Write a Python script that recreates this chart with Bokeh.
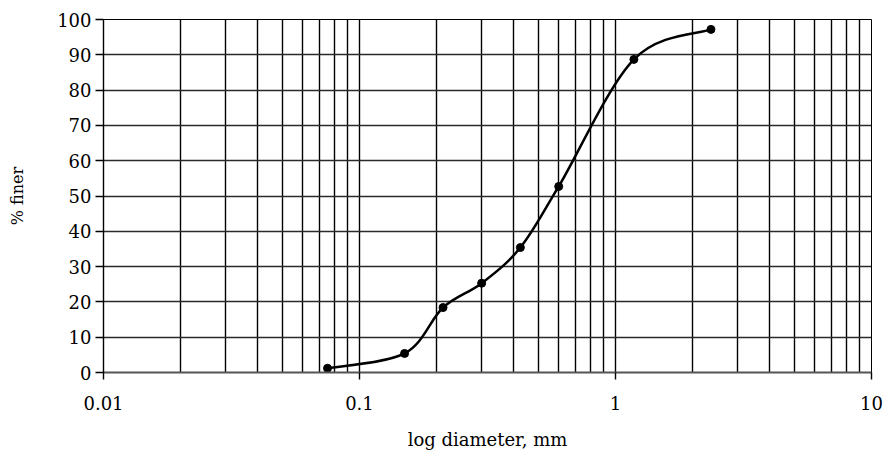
import numpy as np
from bokeh.plotting import figure
from bokeh.models import FixedTicker, Range1d, CustomJSTickFormatter, ColumnDataSource
from bokeh.embed import file_html
from bokeh.resources import INLINE

# ---- data ----
diameter_mm = [0.075, 0.15, 0.212, 0.3, 0.425, 0.6, 1.18, 2.36]
percent_finer = [1.2, 5.4, 18.4, 25.3, 35.4, 52.7, 88.7, 97.2]
x_major_ticks = [0.01, 0.1, 1, 10]
x_minor_mantissas = [2, 3, 4, 5, 6, 7, 8, 9]
y_ticks = [0, 10, 20, 30, 40, 50, 60, 70, 80, 90, 100]
x_title = "log diameter, mm"
y_title = "% finer"

FONT = "DejaVu Serif"

p = figure(width=884, height=452, x_axis_type="log",
           x_range=Range1d(0.01, 10), y_range=Range1d(0, 100),
           output_backend="svg", toolbar_location=None,
           min_border_left=103, min_border_right=13,
           min_border_top=19, min_border_bottom=80)

p.background_fill_color = "white"
p.border_fill_color = "white"
p.outline_line_color = "black"
p.outline_line_width = 1

minor = [m * d for d in x_major_ticks[:-1] for m in x_minor_mantissas]
p.xaxis.ticker = FixedTicker(ticks=x_major_ticks, minor_ticks=minor)
p.yaxis.ticker = FixedTicker(ticks=y_ticks)
p.xaxis.formatter = CustomJSTickFormatter(code="return String(tick);")

# grids
p.xgrid.grid_line_color = "black"
p.xgrid.grid_line_width = 1.4
p.xgrid.minor_grid_line_color = "black"
p.xgrid.minor_grid_line_width = 1.4
p.ygrid.grid_line_color = "#2a2a2a"
p.ygrid.grid_line_width = 1.4

# axes
for ax in (p.xaxis[0], p.yaxis[0]):
    ax.major_label_text_font = FONT
    ax.major_label_text_font_size = "18px"
    ax.major_label_text_color = "black"
    ax.axis_label_text_font = FONT
    ax.axis_label_text_font_style = "normal"
    ax.axis_label_text_color = "black"
    ax.minor_tick_line_color = None
    ax.major_tick_in = 0
    ax.major_tick_line_color = "black"
    ax.major_tick_line_width = 1.4

p.xaxis.axis_line_color = "#555555"
p.xaxis.axis_line_width = 2
p.xaxis.major_tick_out = 7
p.xaxis.major_label_standoff = 16
p.xaxis.axis_label = x_title
p.xaxis.axis_label_text_font_size = "18px"
p.xaxis.axis_label_standoff = 16

p.yaxis.axis_line_color = "black"
p.yaxis.axis_line_width = 1.4
p.yaxis.major_tick_out = 8
p.yaxis.major_label_standoff = 4
p.yaxis.axis_label = y_title
p.yaxis.axis_label_text_font_size = "16px"
p.yaxis.axis_label_standoff = 27

# smoothed curve (Catmull-Rom style Bezier segments, in log-x / linear-y space)
lx = np.log10(np.array(diameter_mm, dtype=float))
yy = np.array(percent_finer, dtype=float)
n = len(lx)
x0s, y0s, x1s, y1s, cx0s, cy0s, cx1s, cy1s = ([] for _ in range(8))
for i in range(n - 1):
    a = max(i - 1, 0)
    d = min(i + 2, n - 1)
    c0x = lx[i] + (lx[i + 1] - lx[a]) / 6.0
    c0y = yy[i] + (yy[i + 1] - yy[a]) / 6.0
    c1x = lx[i + 1] - (lx[d] - lx[i]) / 6.0
    c1y = yy[i + 1] - (yy[d] - yy[i]) / 6.0
    x0s.append(10 ** lx[i]); y0s.append(yy[i])
    x1s.append(10 ** lx[i + 1]); y1s.append(yy[i + 1])
    cx0s.append(10 ** c0x); cy0s.append(c0y)
    cx1s.append(10 ** c1x); cy1s.append(c1y)

bsrc = ColumnDataSource(dict(x0=x0s, y0=y0s, x1=x1s, y1=y1s,
                             cx0=cx0s, cy0=cy0s, cx1=cx1s, cy1=cy1s))
p.bezier(x0="x0", y0="y0", x1="x1", y1="y1", cx0="cx0", cy0="cy0",
         cx1="cx1", cy1="cy1", source=bsrc, line_color="black", line_width=2.5)

p.scatter(diameter_mm, percent_finer, size=8, marker="circle",
          fill_color="black", line_color="black")

open("out.html", "w").write(file_html(p, INLINE))
